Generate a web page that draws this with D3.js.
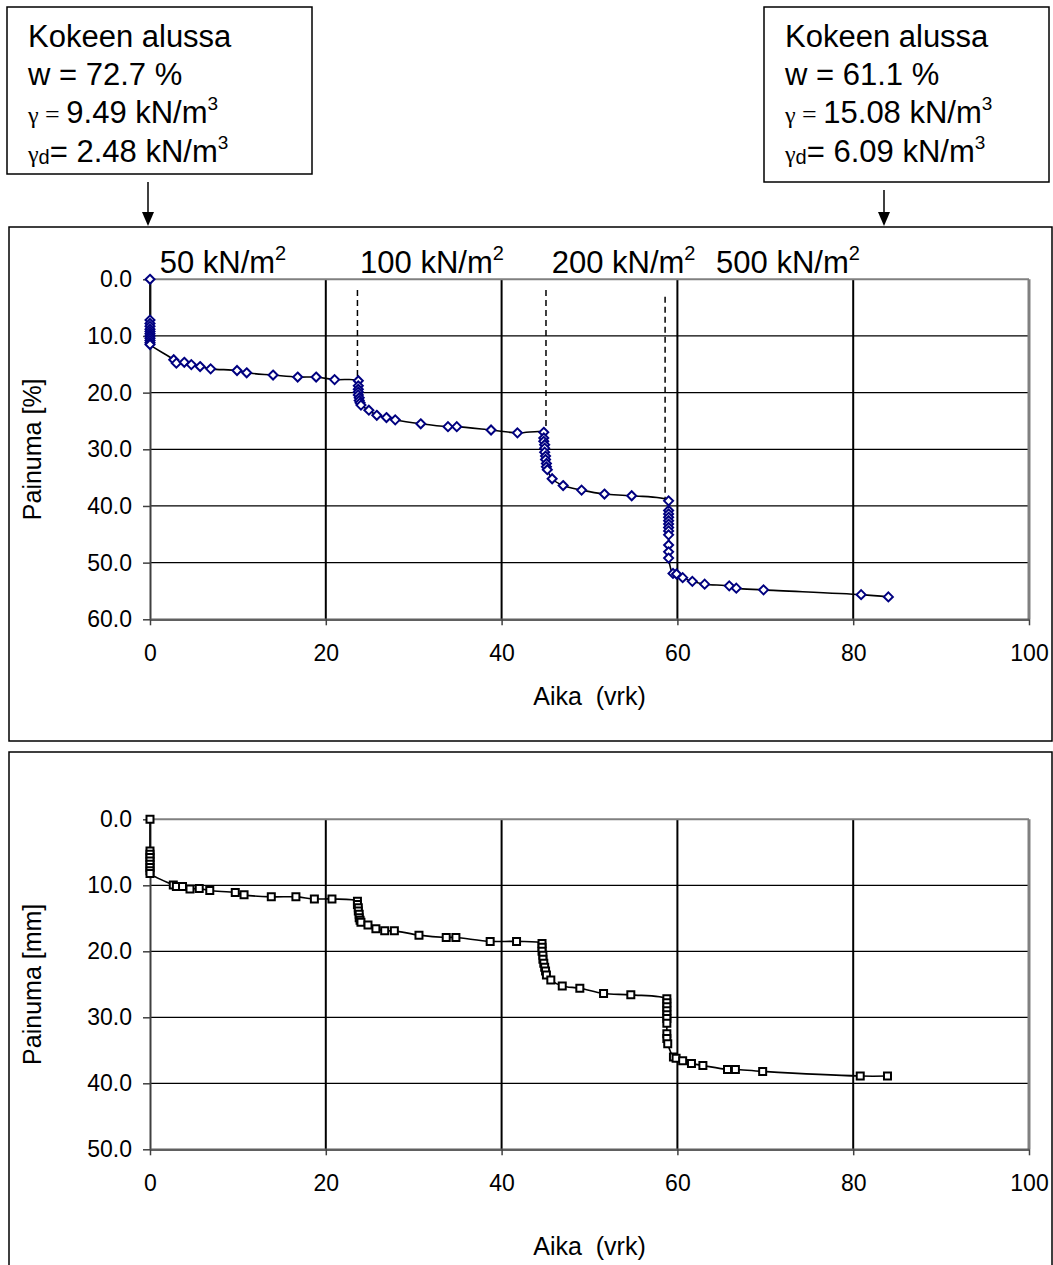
<!DOCTYPE html>
<html>
<head>
<meta charset="utf-8">
<script src="https://cdn.jsdelivr.net/npm/d3@7"></script>
<style>
  body { margin: 0; background: #fff; }
  svg { display: block; font-family: 'Liberation Sans', Arial, sans-serif; }
</style>
</head>
<body>
<script>
// ---- data ----

// upper chart: settlement in % (diamonds)
const daysPct = [
  0, 0, 0, 0, 0, 0, 0, 0, 0, 0, 0, 0,
  2.7, 3.0, 3.9, 4.7, 5.7, 6.9, 9.9, 11.0, 14.0, 16.8, 18.9, 21.0,
  23.7, 23.7, 23.7, 23.7, 23.7, 23.8, 23.8, 23.9, 24.0,
  24.9, 25.8, 26.9, 27.9, 30.8, 33.9, 34.9, 38.8, 41.8,
  44.8, 44.8, 44.8, 44.9, 44.9, 44.9, 45.0, 45.0, 45.1, 45.1, 45.2,
  45.75, 47.0, 49.1, 51.7, 54.8,
  59.0, 59.0, 59.0, 59.0, 59.0, 59.0, 59.0, 59.0, 59.0, 59.0, 59.0, 59.0,
  59.5, 59.9, 60.6, 61.7, 63.1, 65.9, 66.7, 69.8, 80.9, 84.0,
]
const painumaPct = [
  0, 7.2, 7.8, 8.3, 8.8, 9.2, 9.6, 10.0, 10.4, 10.8, 11.2, 11.5,
  14.2, 14.8, 14.65, 15.05, 15.4, 15.8, 16.1, 16.5, 16.9, 17.25, 17.25, 17.7,
  17.9, 18.8, 19.4, 19.9, 20.4, 20.9, 21.4, 21.8, 22.2,
  23.1, 24.0, 24.4, 24.8, 25.5, 26.0, 26.0, 26.6, 27.1,
  27.0, 28.0, 28.6, 29.2, 29.8, 30.5, 31.2, 31.8, 32.5, 33.1, 33.6,
  35.2, 36.4, 37.2, 37.9, 38.2,
  39.1, 40.8, 41.4, 42.0, 42.6, 43.2, 43.8, 44.4, 45.1, 46.9, 48.1, 49.2,
  51.9, 52.0, 52.65, 53.3, 53.8, 54.1, 54.5, 54.8, 55.65, 56.05,
]

// lower chart: settlement in mm (squares)
const daysMm = [
  0, 0, 0, 0, 0, 0, 0, 0, 0,
  2.65, 3.0, 3.7, 4.55, 5.6, 6.8, 9.7, 10.7, 13.8, 16.6, 18.7, 20.7,
  23.6, 23.6, 23.7, 23.7, 23.8, 23.8, 23.9, 24.0,
  24.8, 25.7, 26.7, 27.8, 30.6, 33.7, 34.8, 38.7, 41.7,
  44.6, 44.6, 44.6, 44.7, 44.7, 44.8, 44.9, 45.0, 45.1,
  45.6, 46.9, 48.9, 51.6, 54.7,
  58.8, 58.8, 58.8, 58.8, 58.8, 58.8, 58.8, 58.8, 58.8, 58.9,
  59.55, 59.85, 60.6, 61.6, 62.9, 65.7, 66.6, 69.7, 80.8, 83.9,
]
const painumaMm = [
  0, 4.8, 5.3, 5.8, 6.3, 6.8, 7.3, 7.8, 8.2,
  9.95, 10.2, 10.2, 10.55, 10.5, 10.8, 11.1, 11.45, 11.75, 11.75, 12.07, 12.07,
  12.4, 12.9, 13.4, 13.9, 14.4, 14.9, 15.3, 15.6,
  16.0, 16.6, 16.9, 16.9, 17.55, 17.9, 17.9, 18.5, 18.5,
  18.8, 19.4, 20.0, 20.6, 21.2, 21.8, 22.4, 23.0, 23.6,
  24.35, 25.25, 25.6, 26.4, 26.6,
  27.2, 27.8, 28.4, 29.0, 29.6, 30.2, 30.9, 32.5, 33.2, 34.0,
  36.0, 36.2, 36.6, 37.0, 37.3, 37.9, 37.9, 38.2, 38.9, 38.9,
]

// load steps (kN/m2) and where they start
const loads = ['50', '100', '200', '500']
const loadLabelDays = [1.1, 23.9, 45.7, 64.4]
const stepDays = [23.6, 45.05, 58.6]
const stepTop = [1.9, 1.9, 3.1]
const stepBottom = [17.9, 27.0, 39.1]

// initial state boxes
const boxW = ['72.7', '61.1']
const boxGamma = ['9.49', '15.08']
const boxGammaD = ['2.48', '6.09']

const xTicks = [0, 20, 40, 60, 80, 100]

// ---- drawing ----
const width = 1053
const height = 1265

const svg = d3
  .select('body')
  .append('svg')
  .attr('width', width)
  .attr('height', height)

svg.append('rect').attr('width', width).attr('height', height).attr('fill', '#fff')

const x = d3.scaleLinear().domain([0, 100]).range([150, 1029])

function drawChart(cfg) {
  const { boxTop, boxHeight, top, bottom, yMax, days, values, marker, color, yTitle, titleY } = cfg

  const y = d3.scaleLinear().domain([0, yMax]).range([top, bottom])
  const g = svg.append('g')

  // outer frame
  g.append('rect')
    .attr('x', 9)
    .attr('y', boxTop)
    .attr('width', 1043)
    .attr('height', boxHeight)
    .attr('fill', '#fff')
    .attr('stroke', '#000')
    .attr('stroke-width', 1.5)

  // grid
  g.append('g')
    .selectAll('line')
    .data(d3.range(10, yMax, 10))
    .join('line')
    .attr('x1', x(0))
    .attr('x2', x(100))
    .attr('y1', (d) => y(d))
    .attr('y2', (d) => y(d))
    .attr('stroke', '#000')
    .attr('stroke-width', 1.2)

  g.append('g')
    .selectAll('line')
    .data([20, 40, 60, 80])
    .join('line')
    .attr('x1', (d) => x(d))
    .attr('x2', (d) => x(d))
    .attr('y1', top)
    .attr('y2', bottom)
    .attr('stroke', '#000')
    .attr('stroke-width', 2)

  // plot area border (top / right in grey)
  g.append('line')
    .attr('x1', x(0)).attr('x2', x(100))
    .attr('y1', top).attr('y2', top)
    .attr('stroke', '#808080').attr('stroke-width', 2)
  g.append('line')
    .attr('x1', x(100)).attr('x2', x(100))
    .attr('y1', top).attr('y2', bottom)
    .attr('stroke', '#808080').attr('stroke-width', 3)

  // axes
  const yAxis = g
    .append('g')
    .attr('transform', `translate(${x(0)},0)`)
    .call(
      d3.axisLeft(y)
        .tickValues(d3.range(0, yMax + 1, 10))
        .tickFormat(d3.format('.1f'))
        .tickSize(7)
        .tickSizeOuter(0)
        .tickPadding(11)
    )
  const xAxis = g
    .append('g')
    .attr('transform', `translate(0,${bottom})`)
    .call(d3.axisBottom(x).tickValues(xTicks).tickSize(6).tickSizeOuter(0).tickPadding(19))

  ;[yAxis, xAxis].forEach((a) => {
    a.attr('font-family', null).attr('font-size', 23)
    a.selectAll('text').attr('fill', '#000')
    a.selectAll('line').attr('stroke', '#404040').attr('stroke-width', 1.5)
  })
  yAxis.select('.domain').attr('stroke', '#404040').attr('stroke-width', 2)
  xAxis.select('.domain').attr('stroke', '#606060').attr('stroke-width', 2.5)

  // axis titles
  g.append('text')
    .attr('transform', `translate(41,${(top + bottom) / 2}) rotate(-90)`)
    .attr('text-anchor', 'middle')
    .attr('font-size', 25)
    .text(yTitle)

  g.append('text')
    .attr('x', (x(0) + x(100)) / 2)
    .attr('y', titleY)
    .attr('text-anchor', 'middle')
    .attr('font-size', 25)
    .attr('xml:space', 'preserve')
    .text('Aika  (vrk)')

  const pts = days.map((d, i) => [d, values[i]])

  if (cfg.steps) {
    g.append('g')
      .selectAll('line')
      .data(stepDays)
      .join('line')
      .attr('x1', (d) => x(d))
      .attr('x2', (d) => x(d))
      .attr('y1', (d, i) => y(stepTop[i]))
      .attr('y2', (d, i) => y(stepBottom[i]))
      .attr('stroke', '#000')
      .attr('stroke-width', 1.5)
      .attr('stroke-dasharray', '6,4')
  }

  const line = d3
    .line()
    .x((d) => x(d[0]))
    .y((d) => y(d[1]))
    .curve(d3.curveCatmullRom.alpha(0.5))

  g.append('path')
    .datum(pts)
    .attr('d', line)
    .attr('fill', 'none')
    .attr('stroke', '#000')
    .attr('stroke-width', 1.6)

  g.append('g')
    .selectAll('path')
    .data(pts)
    .join('path')
    .attr('transform', (d) => `translate(${x(d[0])},${y(d[1])})`)
    .attr('d', marker)
    .attr('fill', '#fff')
    .attr('stroke', color)
    .attr('stroke-width', 2)

  return y
}

drawChart({
  boxTop: 227,
  boxHeight: 514,
  top: 279.3,
  bottom: 619.3,
  yMax: 60,
  days: daysPct,
  values: painumaPct,
  marker: 'M0,-4.5L4.5,0L0,4.5L-4.5,0Z',
  color: '#000080',
  yTitle: 'Painuma [%]',
  titleY: 705,
  steps: true,
})

drawChart({
  boxTop: 752,
  boxHeight: 530,
  top: 819.3,
  bottom: 1149.3,
  yMax: 50,
  days: daysMm,
  values: painumaMm,
  marker: 'M-3.5,-3.5h7v7h-7z',
  color: '#000',
  yTitle: 'Painuma [mm]',
  titleY: 1255,
  steps: false,
})

// load labels above upper chart
const loadText = svg
  .append('g')
  .attr('font-size', 31)
  .selectAll('text')
  .data(loads)
  .join('text')
  .attr('x', (d, i) => x(loadLabelDays[i]))
  .attr('y', 273)

loadText.append('tspan').text((d) => `${d} kN/m`)
loadText.append('tspan').attr('font-size', 20).attr('dy', -13).text('2')

// initial state boxes + arrows
const boxes = [
  { x: 7, y: 7, w: 305, h: 167, arrowX: 148 },
  { x: 764, y: 7, w: 285, h: 175, arrowX: 884 },
]

const greek = "'Liberation Serif', 'DejaVu Serif', serif"

boxes.forEach((b, i) => {
  const bg = svg.append('g')
  bg.append('rect')
    .attr('x', b.x)
    .attr('y', b.y)
    .attr('width', b.w)
    .attr('height', b.h)
    .attr('fill', '#fff')
    .attr('stroke', '#000')
    .attr('stroke-width', 1.5)

  const tx = b.x + 21
  const t = bg.append('g').attr('font-size', 31)

  t.append('text').attr('x', tx).attr('y', b.y + 40).text('Kokeen alussa')
  t.append('text').attr('x', tx).attr('y', b.y + 78).text(`w = ${boxW[i]} %`)

  const l3 = t.append('text').attr('x', tx).attr('y', b.y + 116)
  l3.append('tspan').attr('font-family', greek).attr('font-size', 24).text('γ')
  l3.append('tspan').attr('font-family', greek).attr('font-size', 26).attr('xml:space', 'preserve').text(' = ')
  l3.append('tspan').text(`${boxGamma[i]} kN/m`)
  l3.append('tspan').attr('font-size', 19).attr('dy', -13).text('3')

  const l4 = t.append('text').attr('x', tx).attr('y', b.y + 155)
  l4.append('tspan').attr('font-family', greek).attr('font-size', 24).text('γ')
  l4.append('tspan').attr('font-size', 20).attr('dy', 2).text('d')
  l4.append('tspan').attr('dy', -2).text(`= ${boxGammaD[i]} kN/m`)
  l4.append('tspan').attr('font-size', 19).attr('dy', -13).text('3')

  // arrow down to the chart frame
  const top = b.y + b.h + 8
  const tip = 226
  bg.append('line')
    .attr('x1', b.arrowX)
    .attr('x2', b.arrowX)
    .attr('y1', top)
    .attr('y2', tip - 10)
    .attr('stroke', '#000')
    .attr('stroke-width', 1.5)
  bg.append('path')
    .attr('d', `M${b.arrowX - 6},${tip - 14}L${b.arrowX + 6},${tip - 14}L${b.arrowX},${tip}Z`)
    .attr('fill', '#000')
})
</script>
</body>
</html>
